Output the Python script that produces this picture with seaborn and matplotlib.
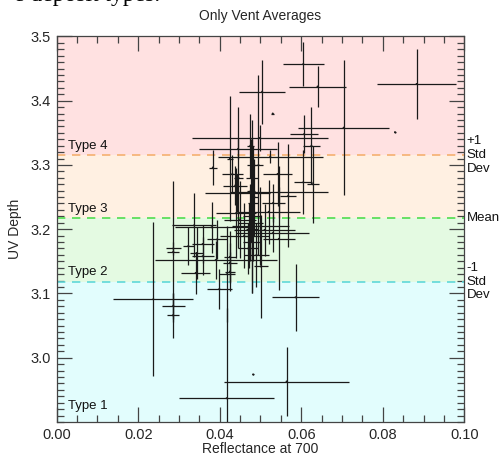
import numpy as np
import pandas as pd
import matplotlib
matplotlib.use("Agg")
import matplotlib.pyplot as plt
import seaborn as sns
from matplotlib.ticker import MultipleLocator, FixedLocator, FormatStrFormatter

# ---- data ----
refl = [0.0883, 0.0605, 0.0640, 0.0504, 0.0704, 0.0830, 0.0498, 0.0445, 0.0607, 0.0524,
        0.0530, 0.0586, 0.0564, 0.0417, 0.0482, 0.0501, 0.0237, 0.0286, 0.0286, 0.0285,
        0.0286, 0.0383, 0.0431, 0.0438, 0.0443, 0.0380, 0.0337, 0.0358, 0.0358, 0.0323,
        0.0343, 0.0393, 0.0425, 0.0425, 0.0425, 0.0341, 0.0399, 0.0418, 0.0390, 0.0542,
        0.0605, 0.0545, 0.0520, 0.0531, 0.0628, 0.0568, 0.0625, 0.0475, 0.0478, 0.0480,
        0.0476, 0.0482, 0.0478, 0.0475, 0.0480, 0.0472, 0.0478, 0.0470, 0.0485, 0.0425,
        0.0446, 0.0495, 0.0530, 0.0510, 0.0460, 0.0450, 0.0440, 0.0490, 0.0500, 0.0545]
uv = [3.426, 3.457, 3.422, 3.414, 3.358, 3.351, 3.342, 3.325, 3.348, 3.313,
      3.380, 3.094, 2.963, 2.937, 2.974, 3.142, 3.091, 3.165, 3.081, 3.066,
      3.170, 3.296, 3.286, 3.268, 3.256, 3.203, 3.206, 3.177, 3.158, 3.174,
      3.163, 3.184, 3.157, 3.148, 3.134, 3.132, 3.107, 3.130, 3.152, 3.286,
      3.273, 3.258, 3.227, 3.241, 3.270, 3.252, 3.330, 3.330, 3.300, 3.280,
      3.260, 3.240, 3.220, 3.210, 3.200, 3.190, 3.180, 3.170, 3.250, 3.310,
      3.280, 3.300, 3.194, 3.199, 3.190, 3.215, 3.225, 3.160, 3.205, 3.185]
refl_err = [0.0097, 0.0050, 0.0070, 0.0056, 0.0112, 0.0003, 0.0167, 0.0095, 0.0035, 0.0129,
            0.0003, 0.0057, 0.0153, 0.0117, 0.0003, 0.0017, 0.0098, 0.0015, 0.0028, 0.0015,
            0.0018, 0.0010, 0.0026, 0.0030, 0.0080, 0.0090, 0.0055, 0.0027, 0.0027, 0.0014,
            0.0015, 0.0025, 0.0015, 0.0017, 0.0012, 0.0035, 0.0030, 0.0020, 0.0150, 0.0035,
            0.0022, 0.0120, 0.0078, 0.0028, 0.0015, 0.0020, 0.0020, 0.0008, 0.0010, 0.0015,
            0.0010, 0.0012, 0.0020, 0.0030, 0.0015, 0.0010, 0.0020, 0.0025, 0.0010, 0.0008,
            0.0010, 0.0010, 0.0090, 0.0075, 0.0060, 0.0040, 0.0050, 0.0030, 0.0070, 0.0040]
uv_err = [0.055, 0.034, 0.032, 0.050, 0.105, 0.001, 0.020, 0.015, 0.030, 0.010,
          0.001, 0.052, 0.054, 0.140, 0.001, 0.080, 0.120, 0.110, 0.020, 0.035,
          0.010, 0.027, 0.030, 0.030, 0.030, 0.040, 0.050, 0.030, 0.030, 0.030,
          0.040, 0.030, 0.040, 0.030, 0.030, 0.033, 0.031, 0.075, 0.030, 0.050,
          0.050, 0.040, 0.050, 0.030, 0.060, 0.080, 0.060, 0.050, 0.070, 0.060,
          0.080, 0.090, 0.070, 0.060, 0.100, 0.050, 0.080, 0.040, 0.060, 0.097,
          0.110, 0.140, 0.030, 0.040, 0.050, 0.060, 0.070, 0.050, 0.060, 0.080]

uv_mean = 3.217
uv_std = 0.0985
type_labels = ["Type 1", "Type 2", "Type 3", "Type 4"]
side_labels = ["+1\nStd\nDev", "Mean", "-1\nStd\nDev"]
y_ticks = [3.0, 3.1, 3.2, 3.3, 3.4, 3.5]
x_ticks = [0.00, 0.02, 0.04, 0.06, 0.08, 0.10]

df = pd.DataFrame({"refl": refl, "uv": uv, "refl_err": refl_err, "uv_err": uv_err})

sns.set_theme(style="ticks")
plt.rcParams["font.family"] = ["Liberation Sans", "DejaVu Sans"]

fig = plt.figure(figsize=(5.01, 4.54), dpi=100)
ax = fig.add_axes([0.1132, 0.0705, 0.8135, 0.8493])

xlim = (0.0, 0.10)
ylim = (2.90, 3.50)
lo, hi = uv_mean - uv_std, uv_mean + uv_std

# background bands
band_cols = ["#e2fdfd", "#e4fae2", "#fff0e2", "#ffe1e1"]
edges = [ylim[0], lo, uv_mean, hi, ylim[1]]
for i in range(4):
    ax.axhspan(edges[i], edges[i + 1], color=band_cols[i], zorder=0, lw=0)

# dashed lines
ax.axhline(hi, color="#f5b070", ls=(0, (5, 4)), lw=1.2, zorder=1)
ax.axhline(uv_mean, color="#50dd50", ls=(0, (5, 4)), lw=1.2, zorder=1)
ax.axhline(lo, color="#60d8d8", ls=(0, (5, 4)), lw=1.2, zorder=1)

# error crosses
ax.errorbar(df["refl"], df["uv"], xerr=df["refl_err"], yerr=df["uv_err"],
            fmt="none", ecolor="#1a1a1a", elinewidth=0.9, capsize=0, zorder=3)
sns.scatterplot(data=df, x="refl", y="uv", ax=ax, s=2, color="#1a1a1a",
                edgecolor="none", zorder=4, legend=False)

ax.set_xlim(*xlim)
ax.set_ylim(*ylim)

# type labels
type_y = [2.915, lo + 0.005, uv_mean + 0.005, hi + 0.005]
for lab, yy in zip(type_labels, type_y):
    ax.text(0.0028, yy, lab, fontsize=9.5, va="bottom", ha="left", color="#111111", zorder=5)

# right side labels
for lab, yy in zip(side_labels, [hi, uv_mean, lo]):
    ax.text(1.006, yy, lab, transform=ax.get_yaxis_transform(), fontsize=9.5,
            va="center", ha="left", linespacing=1.2, color="#111111", clip_on=False)

ax.set_title("Only Vent Averages", fontsize=10, pad=12)
ax.set_xlabel("Reflectance at 700", fontsize=10, labelpad=0)
ax.set_ylabel("UV Depth", fontsize=10, labelpad=6)

ax.xaxis.set_major_locator(FixedLocator(x_ticks))
ax.xaxis.set_minor_locator(MultipleLocator(0.005))
ax.yaxis.set_major_locator(FixedLocator(y_ticks))
ax.yaxis.set_minor_locator(MultipleLocator(0.01))
ax.xaxis.set_major_formatter(FormatStrFormatter("%.2f"))
ax.yaxis.set_major_formatter(FormatStrFormatter("%.1f"))
ax.tick_params(which="both", direction="in", top=True, right=True,
               labelsize=10.5, color="#444444", width=0.9, pad=4)
ax.tick_params(which="major", length=11)
ax.tick_params(which="minor", length=5)
for s in ax.spines.values():
    s.set_color("#444444")
    s.set_linewidth(0.9)

# clipped caption text from surrounding document
fig.text(160 / 501, 1 - 1 / 454, "e deposit types.", fontsize=17, ha="right",
         va="baseline", family=["Liberation Serif", "DejaVu Serif"], color="black")

fig.savefig("out.png", dpi=100)
